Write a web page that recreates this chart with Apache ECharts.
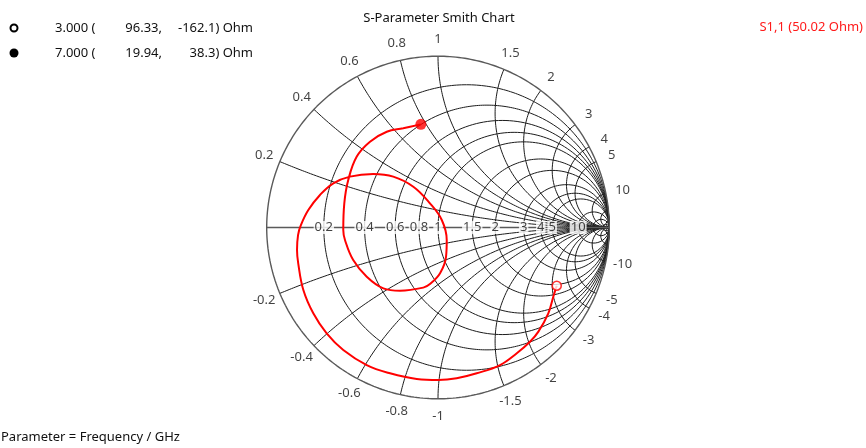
<!DOCTYPE html>
<html><head><meta charset="utf-8">
<script src="https://cdn.jsdelivr.net/npm/echarts@6/dist/echarts.min.js"></script>
<style>html,body{margin:0;padding:0;background:#fff}#c{width:866px;height:448px}</style>
</head><body><div id="c"></div>
<script>
// Smith chart grid values
const resistanceValues = [0.2, 0.4, 0.6, 0.8, 1, 1.5, 2, 3, 4, 5, 10, 20, 50];
const reactanceValues = [0.2, 0.4, 0.6, 0.8, 1, 1.5, 2, 3, 4, 5, 10, 20, 50];
const realAxisLabels = [0.2, 0.4, 0.6, 0.8, 1, 1.5, 2, 3, 4, 5, 10];
const reactanceLabels = [0.2, 0.4, 0.6, 0.8, 1, 1.5, 2, 3, 4, 5, 10];

const traceRe = [0.693, 0.673, 0.644, 0.586, 0.537, 0.460, 0.362, 0.226, 0.109, 0.002,
  -0.124, -0.280, -0.416, -0.553, -0.650, -0.728, -0.786, -0.816, -0.823, -0.817,
  -0.800, -0.757, -0.689, -0.611, -0.514, -0.378, -0.261, -0.144, -0.047, 0.022,
  0.051, 0.047, 0.012, -0.047, -0.086, -0.222, -0.319, -0.416, -0.495, -0.543,
  -0.553, -0.547, -0.524, -0.475, -0.397, -0.299, -0.203, -0.100];
const traceIm = [-0.340, -0.404, -0.501, -0.608, -0.667, -0.734, -0.803, -0.851, -0.880, -0.890,
  -0.884, -0.851, -0.803, -0.715, -0.618, -0.501, -0.365, -0.209, -0.131, -0.044,
  0.015, 0.102, 0.190, 0.258, 0.297, 0.312, 0.297, 0.238, 0.141, 0.044,
  -0.073, -0.170, -0.267, -0.330, -0.351, -0.369, -0.355, -0.287, -0.190, -0.073,
  -0.015, 0.141, 0.277, 0.413, 0.501, 0.559, 0.579, 0.602];

// Markers
const markerFreq = ['3.000', '7.000'];
const markerR = [96.33, 19.94];
const markerX = [-162.1, 38.3];
const z0 = 50;

const FONT = 'Noto Sans';
const R_PX = 171.3;
const CX = 438, CY = 227.5;
const HALF = 1.25;
const labelScale = (R_PX + 17) / R_PX;

function gammaOf(r, x) {
  const d = (r + 1) * (r + 1) + x * x;
  return [(r * r + x * x - 1) / d, 2 * x / d];
}

const series = [];
const gridColor = '#1c1c1c';
// outer circle
(function () {
  const pts = [];
  for (let k = 0; k <= 360; k++) { const a = k * Math.PI / 180; pts.push([Math.cos(a), Math.sin(a)]); }
  series.push({ type: 'line', data: pts, showSymbol: false, silent: true, z: 2,
    lineStyle: { color: '#5a5a5a', width: 1.4 } });
})();
// real axis
series.push({ type: 'line', data: [[-1, 0], [1, 0]], showSymbol: false, silent: true, z: 2,
  lineStyle: { color: '#5a5a5a', width: 1.4 } });
// resistance circles
resistanceValues.forEach(r => {
  const c = r / (r + 1), rad = 1 / (r + 1);
  const pts = [];
  for (let k = 0; k <= 360; k++) { const a = k * Math.PI / 180; pts.push([c + rad * Math.cos(a), rad * Math.sin(a)]); }
  series.push({ type: 'line', data: pts, showSymbol: false, silent: true, z: 1,
    lineStyle: { color: gridColor, width: 1 } });
});
// reactance arcs
reactanceValues.forEach(xv => {
  [xv, -xv].forEach(x => {
    const pts = [];
    for (let k = 0; k < 400; k++) { const t = k / 400; const r = Math.tan(t * Math.PI / 2); pts.push(gammaOf(r, x)); }
    pts.push([1, 0]);
    series.push({ type: 'line', data: pts, showSymbol: false, silent: true, z: 1,
      lineStyle: { color: gridColor, width: 1 } });
  });
});
// real-axis labels
series.push({
  type: 'scatter', symbolSize: 1, itemStyle: { color: 'rgba(0,0,0,0)' }, z: 4, silent: true,
  data: realAxisLabels.map(r => ({ value: [(r - 1) / (r + 1), 0], name: String(r) })),
  label: { show: true, position: 'inside', formatter: p => p.name, color: '#111',
    fontFamily: FONT, fontSize: 13, backgroundColor: '#fff', padding: [0, 1, 0, 1] }
});
// reactance labels outside
const outer = [];
reactanceLabels.forEach(x => {
  [x, -x].forEach(v => {
    const g = gammaOf(0, v);
    outer.push({ value: [g[0] * labelScale, g[1] * labelScale], name: (v < 0 ? '-' : '') + String(x) });
  });
});
series.push({
  type: 'scatter', symbolSize: 1, itemStyle: { color: 'rgba(0,0,0,0)' }, z: 4, silent: true,
  data: outer,
  label: { show: true, position: 'inside', formatter: p => p.name, color: '#111',
    fontFamily: FONT, fontSize: 13 }
});
// trace
series.push({
  type: 'line', z: 6, silent: true, showSymbol: false, smooth: 0.4,
  data: traceRe.map((v, i) => [v, traceIm[i]]),
  lineStyle: { color: '#ff0000', width: 2 }
});
// markers
const mk = markerR.map((r, i) => gammaOf(r / z0, markerX[i] / z0));
series.push({
  type: 'scatter', z: 7, silent: true,
  data: [
    { value: mk[0], symbolSize: 9, itemStyle: { color: '#fff', borderColor: '#ff0000', borderWidth: 1.6 } },
    { value: mk[1], symbolSize: 11, itemStyle: { color: '#ff0000' } }
  ]
});

const txt = (x, y, text, opt) => Object.assign({ type: 'text', x: x, y: y, z: 10,
  style: Object.assign({ text: text, fill: '#111', font: '13px "' + FONT + '"', verticalAlign: 'middle' }, opt || {}) });

const graphic = [
  txt(439, 18, 'S-Parameter Smith Chart', { align: 'center' }),
  txt(863, 27, 'S1,1 (50.02 Ohm)', { align: 'right', fill: '#ff1a1a' }),
  txt(1, 437, 'Parameter = Frequency / GHz', { align: 'left' }),
  { type: 'circle', shape: { cx: 14, cy: 28, r: 3.5 }, style: { fill: '#fff', stroke: '#000', lineWidth: 2 }, z: 10 },
  { type: 'circle', shape: { cx: 14, cy: 53, r: 4.5 }, style: { fill: '#000' }, z: 10 }
];
[28, 53].forEach((y, i) => {
  graphic.push(txt(55, y, markerFreq[i] + ' (', { align: 'left' }));
  graphic.push(txt(162, y, markerR[i].toFixed(2) + ',', { align: 'right' }));
  graphic.push(txt(253, y, String(markerX[i]) + ') Ohm', { align: 'right' }));
});

const chart = echarts.init(document.getElementById('c'), null, { renderer: 'canvas' });
chart.setOption({
  animation: false,
  backgroundColor: '#fff',
  grid: { left: CX - HALF * R_PX, top: CY - HALF * R_PX, width: 2 * HALF * R_PX, height: 2 * HALF * R_PX },
  xAxis: { type: 'value', min: -HALF, max: HALF, show: false },
  yAxis: { type: 'value', min: -HALF, max: HALF, show: false },
  series: series,
  graphic: graphic
});
</script></body></html>
